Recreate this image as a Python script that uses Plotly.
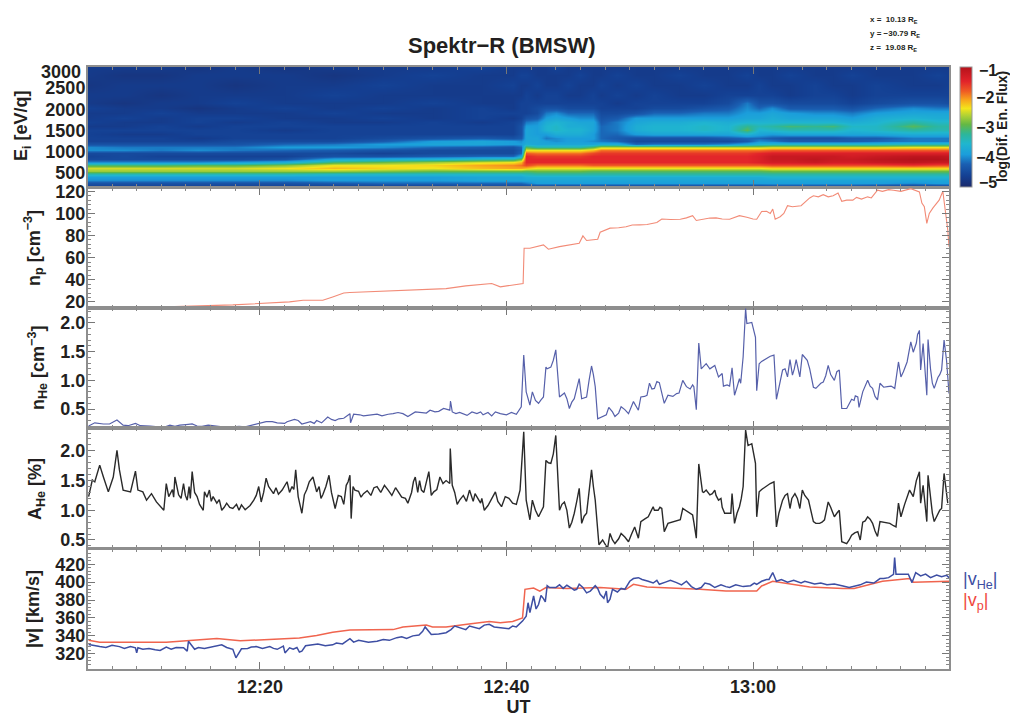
import numpy as np
import plotly.graph_objects as go

W, H = 1010, 717
X0, X1 = 88, 949
TMIN, TMAX = 6.05, 75.9
INK = "#231f20"
FONT = "Liberation Sans"

# ---- spectrogram (log10 flux x 10), columns in time, rows from high to low energy
flux_energy = [3000,2811,2575,2339,2150,2032,1914,1796,1702,1608,1513,1419,1324,1254,1183,1112,1041,970,900,829,758,687,616,546,475,404,333,262,192]
flux_time = [5.5,9,12,15,18,22,26,30,34,38,40.5,41.2,41.6,42.5,43.2,44,45,46,47,47.7,49,50.5,52,54,56,58,59.5,60.5,61.5,63,65,66.5,68,70,73,75,76.5]
flux_columns = [
 [-47,-47,-48,-47,-47,-46,-47,-47,-46,-47,-46,-46,-46,-46,-44,-40,-40,-45,-46,-45,-40,-31,-25,-27,-34,-39,-40,-44,-46],
 [-47,-48,-47,-47,-48,-47,-47,-46,-47,-47,-46,-47,-46,-46,-44,-41,-40,-45,-45,-45,-40,-31,-25,-27,-34,-39,-40,-44,-46],
 [-47,-48,-47,-48,-47,-47,-46,-47,-47,-46,-46,-47,-46,-46,-44,-41,-41,-45,-46,-45,-40,-31,-25,-27,-34,-39,-40,-44,-46],
 [-48,-47,-47,-47,-47,-48,-47,-46,-46,-47,-46,-46,-47,-46,-44,-41,-40,-45,-46,-45,-40,-30,-25,-27,-34,-39,-40,-44,-46],
 [-47,-47,-48,-47,-46,-47,-47,-46,-47,-46,-46,-46,-46,-45,-44,-41,-41,-45,-46,-45,-39,-30,-25,-27,-34,-39,-40,-44,-46],
 [-48,-47,-47,-47,-47,-46,-47,-47,-46,-46,-47,-46,-46,-45,-42,-39,-42,-45,-46,-44,-37,-28,-24,-27,-34,-39,-40,-44,-46],
 [-47,-48,-47,-46,-47,-47,-46,-47,-47,-46,-46,-46,-46,-45,-41,-39,-43,-45,-44,-38,-31,-24,-22,-27,-35,-39,-39,-43,-46],
 [-47,-47,-46,-47,-47,-46,-47,-46,-47,-46,-46,-46,-45,-43,-39,-40,-44,-46,-44,-37,-29,-24,-23,-28,-35,-39,-39,-42,-46],
 [-47,-46,-47,-47,-46,-47,-47,-47,-46,-46,-46,-46,-44,-39,-38,-42,-45,-45,-43,-36,-27,-23,-24,-29,-35,-39,-39,-42,-46],
 [-46,-47,-47,-47,-47,-46,-46,-46,-47,-46,-46,-46,-43,-38,-38,-43,-45,-45,-42,-34,-25,-21,-22,-29,-35,-38,-38,-42,-45],
 [-47,-47,-46,-47,-47,-47,-46,-47,-46,-46,-46,-46,-44,-39,-39,-44,-45,-45,-42,-33,-24,-20,-21,-29,-35,-38,-38,-42,-45],
 [-47,-46,-47,-47,-46,-46,-46,-46,-45,-44,-44,-44,-43,-40,-39,-42,-43,-42,-38,-29,-22,-19,-21,-29,-35,-38,-38,-42,-45],
 [-47,-46,-47,-46,-46,-46,-46,-44,-41,-39,-38,-38,-38,-38,-37,-30,-24,-18,-15,-15,-15,-17,-22,-30,-34,-37,-38,-41,-45],
 [-47,-47,-46,-47,-46,-45,-45,-43,-40,-39,-39,-39,-38,-38,-38,-33,-24,-19,-16,-15,-15,-19,-24,-29,-33,-37,-38,-39,-45],
 [-47,-47,-47,-46,-46,-44,-41,-39,-37,-36,-36,-39,-41,-39,-38,-33,-24,-19,-16,-15,-15,-19,-24,-29,-33,-37,-38,-39,-45],
 [-46,-47,-47,-46,-46,-44,-40,-38,-36,-35,-35,-37,-40,-40,-38,-33,-24,-19,-16,-15,-15,-19,-24,-29,-33,-37,-38,-39,-45],
 [-47,-47,-46,-47,-46,-45,-42,-39,-37,-37,-36,-37,-39,-39,-38,-33,-24,-19,-16,-15,-15,-19,-24,-29,-33,-37,-38,-39,-45],
 [-47,-46,-47,-47,-46,-45,-42,-40,-38,-37,-36,-37,-39,-39,-38,-33,-24,-19,-16,-15,-15,-19,-24,-29,-33,-37,-38,-39,-45],
 [-47,-47,-47,-46,-46,-45,-42,-40,-38,-38,-38,-39,-39,-40,-38,-30,-22,-17,-15,-15,-15,-18,-24,-30,-33,-37,-38,-39,-45],
 [-47,-47,-46,-47,-46,-46,-45,-44,-43,-42,-42,-42,-42,-41,-37,-26,-19,-16,-15,-15,-15,-18,-24,-30,-33,-37,-38,-39,-45],
 [-47,-46,-47,-46,-47,-46,-45,-43,-41,-41,-41,-42,-43,-42,-37,-26,-19,-16,-15,-15,-15,-18,-24,-30,-33,-37,-38,-39,-45],
 [-47,-47,-46,-47,-46,-46,-44,-39,-38,-37,-37,-39,-44,-45,-42,-26,-19,-16,-15,-15,-15,-18,-24,-30,-33,-37,-38,-39,-45],
 [-47,-47,-47,-46,-46,-45,-42,-39,-37,-36,-36,-38,-44,-45,-41,-26,-19,-16,-15,-15,-15,-18,-24,-30,-33,-37,-38,-39,-45],
 [-47,-46,-47,-47,-46,-45,-42,-39,-37,-36,-36,-38,-44,-45,-41,-26,-19,-16,-15,-15,-15,-18,-24,-30,-33,-37,-38,-39,-45],
 [-47,-47,-46,-47,-46,-44,-41,-39,-36,-35,-35,-38,-44,-45,-41,-26,-19,-16,-15,-15,-15,-18,-24,-30,-33,-37,-38,-39,-45],
 [-47,-47,-47,-46,-45,-43,-41,-39,-37,-36,-36,-38,-43,-45,-40,-26,-19,-16,-15,-15,-15,-18,-24,-30,-33,-37,-38,-39,-45],
 [-47,-46,-47,-46,-41,-40,-39,-38,-36,-32,-30,-36,-42,-43,-38,-26,-19,-16,-15,-15,-15,-18,-24,-30,-33,-37,-38,-39,-45],
 [-47,-47,-46,-46,-44,-42,-39,-38,-36,-34,-36,-38,-42,-40,-36,-26,-19,-15,-14,-14,-14,-18,-24,-30,-33,-37,-38,-39,-45],
 [-47,-47,-47,-46,-44,-40,-38,-37,-36,-33,-35,-39,-43,-41,-35,-25,-18,-14,-12,-12,-13,-17,-23,-29,-33,-36,-38,-39,-44],
 [-47,-46,-47,-47,-45,-43,-39,-38,-36,-31,-34,-38,-44,-43,-35,-25,-18,-14,-12,-12,-13,-17,-23,-29,-33,-36,-38,-39,-44],
 [-47,-47,-46,-46,-45,-43,-40,-38,-36,-32,-34,-38,-44,-43,-35,-25,-18,-14,-12,-11,-12,-17,-23,-29,-33,-36,-38,-39,-44],
 [-47,-47,-47,-46,-45,-43,-40,-38,-36,-31,-34,-38,-44,-43,-35,-25,-18,-14,-12,-12,-13,-17,-23,-29,-33,-36,-38,-39,-44],
 [-47,-46,-47,-47,-46,-44,-41,-39,-37,-35,-36,-38,-43,-43,-35,-25,-18,-14,-13,-12,-13,-17,-23,-29,-33,-36,-38,-39,-44],
 [-47,-47,-46,-46,-45,-42,-39,-37,-36,-35,-35,-38,-43,-42,-35,-25,-18,-14,-12,-11,-12,-17,-23,-29,-33,-36,-38,-39,-45],
 [-47,-47,-47,-46,-44,-40,-38,-36,-33,-30,-33,-37,-41,-41,-34,-24,-18,-14,-11,-10,-11,-16,-23,-29,-33,-36,-38,-40,-46],
 [-47,-46,-47,-46,-44,-41,-38,-37,-35,-33,-34,-37,-41,-41,-34,-24,-18,-14,-11,-10,-12,-17,-23,-29,-33,-36,-38,-39,-45],
 [-47,-47,-46,-46,-45,-41,-38,-37,-35,-33,-34,-37,-41,-41,-34,-24,-18,-14,-12,-11,-12,-17,-23,-29,-33,-36,-38,-39,-45],
]

# ---- proton density
np_t = [6.1,12.4,17.8,21.6,22.4,23.5,25.1,25.9,26.8,27.3,28.6,30,32.7,35.1,36.7,38.8,39.5,40.5,41.35,41.43,41.9,43,43.4,44.3,44.9,45.4,45.9,46.2,46.5,47.4,47.6,48.4,49.1,49.7,50.2,50.8,51.4,52.2,52.6,53.3,54.1,54.6,55.1,55.4,56.5,57,57.5,58.1,58.9,59.5,60,60.3,60.7,61.1,61.4,61.6,61.8,62.2,62.5,62.8,63.2,63.9,64.2,64.6,64.9,65.3,65.7,66.1,66.5,66.9,67.2,67.6,68.1,68.4,68.8,69.3,69.6,70.1,70.5,71,71.4,72,72.8,73.5,73.7,73.9,74.1,74.3,74.6,75.1,75.4,75.6,75.8,75.9]
np_v = [14.8,15.5,17.3,19,20,21.5,21.5,24.5,28,28.5,29,30,30.6,32,34.5,36.7,33.6,35,36.7,68.5,68.5,71.5,67.6,70,71,71.5,73,79.7,75.5,76.7,83,86.7,87,88,89.5,89.7,90,91.8,95,94.5,94.8,96,98,93.6,95.8,96,95,94.8,98,96.5,95,94.8,101.8,102,100,104,94.8,97,100,107,106,107,110,114,116,115,117,115,116,118.5,111,112,112,114.5,113,115,114,121,120,121.5,121,120,122.4,119.4,109.4,106,91,100,105,112,120,103,85,70]

# ---- helium density
nhe_t = [6.1,6.6,7.3,7.8,8.4,8.9,9.3,9.9,10.3,11.1,12.2,12.7,13.1,13.5,14,14.5,14.9,15.3,15.8,16.3,16.8,17.3,17.8,18.3,18.8,19.5,20,20.5,21,21.4,22,22.2,22.8,23.1,23.4,23.7,24.1,24.4,24.6,25,25.5,25.8,26.1,26.4,26.8,27.3,27.35,27.6,28.1,28.4,28.9,29.5,29.9,30.4,30.8,31.2,31.6,32,32.6,33.1,33.5,33.8,34.2,34.5,34.9,35.4,35.46,35.6,35.9,36.2,36.5,36.8,37.2,37.6,37.9,38.1,38.5,38.8,39.1,39.5,40,40.4,40.8,41.2,41.4,41.6,41.9,42.1,42.35,42.6,42.8,43,43.2,43.3,43.6,43.8,44,44.3,44.7,44.9,45.1,45.3,45.5,45.7,45.9,46.1,46.5,46.7,46.9,47.05,47.2,47.4,48.1,48.3,48.6,48.8,49.1,49.3,49.6,49.9,50.1,50.3,50.7,50.9,51.2,51.4,51.6,51.8,52,52.2,52.4,52.6,52.8,53.1,53.5,53.8,54,54.3,54.6,54.9,55.1,55.2,55.4,55.6,55.8,56.2,56.5,56.9,57.2,57.5,57.6,57.9,58.1,58.3,58.5,58.7,58.9,59,59.2,59.4,59.5,59.9,60.2,60.3,60.5,60.7,60.9,61.1,61.4,61.7,61.9,62.4,62.6,62.8,63,63.2,63.35,63.5,63.65,63.8,64,64.2,64.4,64.6,64.9,65.1,65.3,65.5,65.7,65.9,66.1,66.3,66.6,66.8,67,67.2,67.6,67.8,68,68.2,68.3,68.5,68.6,68.9,69.1,69.3,69.5,69.7,69.9,70.1,70.3,70.6,70.9,71.2,71.5,71.8,72,72.2,72.5,72.8,73,73.25,73.35,73.5,73.6,73.8,74.1,74.2,74.4,74.55,74.7,75,75.15,75.3,75.5,75.7,75.9]
nhe_v = [.205,.26,.24,.24,.31,.22,.21,.25,.21,.205,.18,.22,.2,.22,.23,.24,.205,.2,.22,.21,.19,.18,.19,.2,.19,.23,.26,.28,.28,.26,.25,.28,.32,.3,.24,.26,.28,.25,.30,.26,.36,.32,.30,.33,.34,.42,.26,.41,.4,.38,.39,.41,.38,.41,.42,.44,.42,.37,.45,.44,.43,.48,.45,.46,.51,.48,.64,.45,.42,.44,.41,.39,.45,.42,.45,.40,.44,.38,.45,.42,.40,.44,.41,.54,1.44,.80,.57,.80,.65,.60,.66,.71,1.23,1.2,1.23,1.35,1.53,.71,.78,.68,.51,.62,.68,.85,1.03,.68,.71,1.0,1.25,1.1,.89,.33,.40,.53,.45,.37,.43,.54,.49,.42,.52,.63,.48,.71,.72,.74,.95,.85,.86,.98,.96,.8,.60,.74,.72,.77,.78,1.0,.89,.85,.92,.89,.49,1.65,1.2,1.29,1.2,1.26,1.06,1.12,.9,.92,.9,1.22,.74,.88,1.03,.95,1.41,2.25,1.99,2.01,1.75,.82,1.29,1.33,1.36,1.38,1.42,1.44,.67,1.18,1.2,1.06,1.36,1.09,1.2,1.36,1.2,1.06,1.45,1.4,1.35,1.2,.88,.86,.90,.95,.97,1.08,1.26,1.1,1.0,1.15,1.18,.51,.51,.58,.67,.65,.73,.71,.53,.8,.9,1.0,.9,.86,.72,.66,.95,.88,.89,.9,.86,1.32,1.06,1.15,1.32,1.67,1.49,1.65,1.8,1.87,1.18,1.64,.74,1.71,1.2,.95,.86,1.05,1.1,1.18,1.7,1.35,.77]

# ---- helium abundance
ahe_t = [6.1,6.4,6.6,7,7.3,7.7,8.1,8.4,8.6,8.9,9.5,9.9,10.1,10.5,10.8,11.2,11.6,12.2,12.4,12.6,12.9,13.0,13.1,13.25,13.4,13.6,13.8,13.95,14.1,14.25,14.35,14.5,14.7,14.9,15.1,15.4,15.5,15.7,15.9,16.05,16.2,16.5,16.7,16.9,17.1,17.3,17.55,17.8,18.1,18.3,18.5,18.8,19.2,19.5,19.7,19.9,20.1,20.3,20.5,20.7,20.9,21.1,21.3,21.5,21.8,22,22.2,22.4,22.6,22.75,22.9,23.1,23.4,23.6,23.8,24,24.3,24.6,24.8,24.95,25.1,25.35,25.6,25.8,25.95,26.1,26.35,26.6,26.8,27,27.15,27.3,27.4,27.55,27.7,28,28.2,28.4,28.7,29,29.25,29.5,29.8,30.1,30.4,30.7,31,31.2,31.5,31.8,32,32.3,32.45,32.6,32.8,32.95,33.1,33.3,33.5,33.7,33.9,34.1,34.35,34.6,34.85,35.1,35.4,35.44,35.6,35.8,36,36.2,36.5,36.75,37,37.3,37.45,37.6,37.9,38,38.2,38.5,38.8,39.1,39.3,39.6,39.9,40.2,40.5,40.8,41.1,41.4,41.6,41.9,42.1,42.35,42.6,42.8,43,43.2,43.4,43.6,43.8,44,44.3,44.5,44.7,44.9,45.1,45.3,45.5,45.7,45.9,46.1,46.3,46.5,46.7,46.9,47.05,47.2,47.5,47.8,48.2,48.4,48.6,48.8,49.1,49.3,49.6,49.9,50.15,50.4,50.7,50.9,51.2,51.5,51.9,52,52.3,52.45,52.6,52.8,53.1,53.5,53.8,54.1,54.3,54.7,54.9,55.1,55.2,55.4,55.6,55.9,56,56.2,56.5,56.7,56.9,57,57.2,57.4,57.5,57.7,58,58.2,58.3,58.5,58.7,58.9,59.05,59.2,59.4,59.6,59.9,60,60.2,60.3,60.5,60.7,60.9,61.1,61.4,61.7,61.9,62.1,62.4,62.6,62.8,63,63.15,63.4,63.6,63.8,64,64.2,64.5,64.9,65.1,65.4,65.6,65.8,66.1,66.3,66.6,66.8,67,67.2,67.6,67.8,68,68.25,68.5,68.7,68.9,69.1,69.3,69.5,69.7,69.9,70.1,70.3,70.6,71.1,71.4,71.6,71.8,72,72.3,72.7,73,73.25,73.5,73.6,73.8,74.1,74.2,74.4,74.55,74.7,75,75.15,75.3,75.5,75.8]
ahe_v = [1.23,1.51,1.48,1.76,1.56,1.31,1.56,2.01,1.68,1.34,1.31,1.66,1.34,1.31,1.17,1.28,1.14,1.0,1.45,1.23,1.35,1.22,1.56,1.42,1.26,1.2,1.45,1.25,1.17,1.4,1.2,1.65,1.3,1.23,1.1,1.0,1.31,1.22,1.34,1.15,1.23,1.12,1.18,1.0,1.05,1.12,1.05,1.03,1.1,1.0,1.09,1.01,1.08,1.17,1.25,1.4,1.14,1.3,1.54,1.4,1.34,1.28,1.38,1.27,1.34,1.4,1.48,1.3,1.4,1.35,1.68,1.23,.95,1.26,1.35,1.48,1.56,1.31,1.4,1.2,1.26,1.4,1.59,1.3,1.15,1.03,1.25,1.23,1.1,1.42,1.48,1.59,.86,1.4,1.34,1.32,1.22,1.28,1.33,1.25,1.38,1.4,1.3,1.42,1.34,1.25,1.38,1.31,1.22,1.2,1.12,1.3,1.48,1.56,1.3,1.5,1.34,1.3,1.5,1.65,1.25,1.31,1.35,1.56,1.45,1.5,1.45,2.04,1.42,1.3,1.1,1.17,1.25,1.15,1.34,1.15,1.28,1.23,1.12,1.2,1.0,1.08,1.2,1.31,1.15,1.06,1.23,1.2,1.12,1.1,1.34,2.32,1.17,.84,1.17,1.0,.89,.98,1.06,1.84,1.8,1.79,1.95,2.26,1.0,1.1,1.14,1.0,.70,.8,.95,1.15,1.37,.78,.9,.95,1.3,1.68,1.4,1.17,.42,.5,.36,.61,.5,.44,.52,.61,.55,.47,.6,.72,.53,.81,.85,.89,1.06,1.0,1.0,1.05,1.03,.64,.78,.8,.82,.84,1.03,.98,.95,.92,.8,.53,1.78,1.31,1.3,1.34,1.26,1.28,1.34,1.25,1.17,1.2,1.05,.95,.95,.95,1.28,.78,.95,1.06,1.2,1.4,2.35,2.09,2.12,2.0,1.79,.89,1.31,1.35,1.38,1.4,1.45,1.48,.72,.95,1.17,1.25,1.28,1.03,1.2,1.28,1.2,1.03,1.34,1.25,1.17,.81,.78,.78,.8,.84,1.14,1.05,.89,.95,1.0,.47,.44,.5,.58,.62,.64,.5,.8,.82,.89,.85,.78,.65,.56,.81,.8,.78,.74,.72,1.12,.89,1.1,1.34,1.23,1.5,1.65,1.12,1.42,.81,1.59,1.17,.95,.81,.95,1.0,1.03,1.62,1.12]

# ---- speeds
vp_t = [6.1,7,12.4,14.1,16.5,18.4,20.5,23.2,24.6,25.9,27.3,30.8,31.6,33.5,34,35.1,36.8,38.6,39.5,40.5,41.3,41.5,42.2,42.7,43.2,44.9,47.6,49.7,50.3,51.4,55.7,57.8,60.3,60.7,61.6,62.4,64.6,67.3,68.2,70.5,72.7,73,74.6,75.9]
vp_v = [335,333,333,335,337,334.5,336,337.5,340.5,344,346.5,347,350,352,350,350,353,356,354.7,356,360,392,393.5,390,394,393,394,392,397.6,394.6,392,390,390,395.7,401,399.5,394.6,393,393,401,404,400,401,401]
vhe_t = [6.1,6.5,7,7.5,8,8.6,9,9.5,9.9,10,10.1,10.5,11,11.5,11.9,12.4,12.8,13.2,13.8,14.1,14.2,14.7,15,15.5,16,16.5,16.9,17.3,17.8,18.05,18.5,19,19.3,19.7,20.2,20.8,21.1,21.4,21.9,22.03,22.4,22.7,23,23.2,23.4,23.7,24.3,24.7,25.3,25.9,26.2,26.7,27.3,27.6,28,28.8,29.5,30,30.5,31.1,31.5,31.9,32.4,32.9,33.2,33.4,33.9,34.5,35.1,35.5,35.8,36.2,36.7,37,37.3,37.8,38.2,38.6,39,39.5,40.2,40.5,40.8,41.3,41.6,41.75,41.9,42.2,42.4,42.6,42.8,43,43.15,43.3,43.5,44,44.3,44.6,44.9,45.2,45.5,45.7,45.9,46.2,46.5,46.8,47.2,47.4,47.6,47.9,48.1,48.2,48.4,48.6,49,49.3,49.6,50,50.3,50.7,51,51.5,51.9,52.2,52.4,52.9,53.3,53.8,54.2,54.6,55,55.4,55.8,56.1,56.5,56.9,57.4,57.8,58.1,58.6,59.2,59.8,60.1,60.3,60.7,61.1,61.3,61.6,61.9,62.3,62.8,63.3,63.9,64.2,64.6,65,65.5,66,66.6,67,67.3,67.8,68.2,68.7,69.2,69.8,70.3,70.6,71,71.4,71.49,71.6,72.6,72.9,73.2,73.6,74,74.4,74.9,75.3,75.7,75.9]
vhe_v = [330.4,329,328,327,329.5,328,326,328,326.7,321,326.7,325,326,324.5,323.7,327.5,325,327,326.7,323,334,325,327,326,327.5,329,330,327,325,315.5,325.6,326,327.5,328,326,328,326,325,328.6,321,326.7,325,327,322,323,329,330,331,329,330,332,331,336.8,333,335,333,334,336,335,338,339,337,340,341,345,350,341.6,342,343.5,347,351,349,347,351,350,348,352,353,350,349,348,351,350,356.5,362,377,366,384.5,370,375,385,381.6,378,396,394,394,397,393,396.5,394,391,392,397.6,394,388,390,396,393,386.5,382,390,377,381,392,389,393,392,401,404,405,403,401,399,402,397.6,400,402,399.5,397,401,395,392,394,399,397.6,394,397,395,394,397,395,396,399,397.6,401,403,403,410.7,401,403,400,402,399,401,399.5,398,399,397,398,397,395.7,394,395.7,397,400,399,404,404,405,408.8,427.5,408.8,408.8,399.5,410.7,407,409,405,408,406,407.7,405]

for a, b, name in [(np_t, np_v, "np"), (nhe_t, nhe_v, "nhe"), (ahe_t, ahe_v, "ahe"), (vp_t, vp_v, "vp"), (vhe_t, vhe_v, "vhe")]:
    assert len(a) == len(b), (name, len(a), len(b))

# ---- axes
time_ticks = [20, 40, 60]
time_labels = ["12:20", "12:40", "13:00"]
energy_ticks = [500, 1000, 1500, 2000, 2500]
panel_ranges = {"E": (167, 3000), "np": (14.5, 123), "nHe": (0.17, 2.26), "AHe": (0.365, 2.385), "v": (303, 437)}
panel_px = {"E": (67, 187), "np": (188, 308), "nHe": (308, 428), "AHe": (428, 548), "v": (549, 669)}
rainbow = [[0, "#1b2a6b"], [0.09, "#143f92"], [0.19, "#1a5fb2"], [0.27, "#1b9ddb"], [0.36, "#20b6cf"], [0.44, "#2db69a"], [0.52, "#63b845"], [0.60, "#b5d333"], [0.655, "#f4e51b"], [0.73, "#f8a11c"], [0.80, "#ef5a24"], [0.88, "#e2232a"], [1, "#b5121b"]]


def py(y):
    return 1 - y / H


def px(x):
    return x / W


fig = go.Figure()
z = np.array(flux_columns, dtype=float).T / 10
fig.add_trace(go.Heatmap(x=flux_time, y=flux_energy, z=z, zmin=-5, zmax=-1, colorscale=rainbow, zsmooth="best", xaxis="x", yaxis="y",
                         hoverinfo="skip",
                         colorbar=dict(x=px(960), xanchor="left", y=py(127), yanchor="middle", lenmode="pixels", len=120, thicknessmode="pixels", thickness=12,
                                       tickvals=[-2, -3, -4], ticks="", tickfont=dict(family=FONT, size=16, color=INK, weight="bold"), outlinecolor="#999", outlinewidth=1, xpad=0, ypad=0)))
fig.add_trace(go.Scatter(x=np_t, y=np_v, mode="lines", line=dict(color="#f28b77", width=1.1), xaxis="x2", yaxis="y2"))
fig.add_trace(go.Scatter(x=nhe_t, y=nhe_v, mode="lines", line=dict(color="#5660aa", width=1.2), xaxis="x3", yaxis="y3"))
fig.add_trace(go.Scatter(x=ahe_t, y=ahe_v, mode="lines", line=dict(color="#2a2a2a", width=1.4), xaxis="x4", yaxis="y4"))
fig.add_trace(go.Scatter(x=vp_t, y=vp_v, mode="lines", line=dict(color="#f0644e", width=1.5), xaxis="x5", yaxis="y5"))
fig.add_trace(go.Scatter(x=vhe_t, y=vhe_v, mode="lines", line=dict(color="#3d4ea3", width=1.5), xaxis="x5", yaxis="y5"))

AX = dict(showline=True, linecolor="#8e8e8e", linewidth=2, mirror="ticks", showgrid=False, zeroline=False, ticks="inside", tickcolor="#777", ticklen=7, tickwidth=1,
          tickfont=dict(family=FONT, size=18, color=INK, weight="bold"))
minor_steps = {"np": 4, "nHe": 0.1, "AHe": 0.1, "v": 4}
major_steps = {"np": 20, "nHe": 0.5, "AHe": 0.5, "v": 20}
layout = {}
for i, key in enumerate(["E", "np", "nHe", "AHe", "v"]):
    suffix = "" if i == 0 else str(i + 1)
    top, bottom = panel_px[key]
    xa = dict(AX, domain=[px(X0), px(X1)], range=[TMIN, TMAX], tickmode="array", tickvals=time_ticks,
              ticktext=time_labels if key == "v" else [""] * 3, anchor="y" + suffix,
              minor=dict(tick0=0, dtick=2, ticks="inside", ticklen=3, tickcolor="#888"))
    if key == "v":
        xa["title"] = dict(text="UT", standoff=0, font=dict(family=FONT, size=18, color=INK, weight="bold"))
    ya = dict(AX, domain=[py(bottom), py(top)], range=list(panel_ranges[key]), anchor="x" + suffix, ticklabelstandoff=-3)
    if key == "E":
        ya.update(tickmode="array", tickvals=energy_ticks, ticks="", mirror=True)
    else:
        ya.update(tick0=0, dtick=major_steps[key], tickformat=".1f" if key in ("nHe", "AHe") else "d",
                  minor=dict(dtick=minor_steps[key], ticks="inside", ticklen=3, tickcolor="#888"))
    layout["xaxis" + suffix] = xa
    layout["yaxis" + suffix] = ya


def text(x, y, s, size=18, angle=0, color=INK, anchor="center", bold=True):
    return dict(xref="paper", yref="paper", x=px(x), y=py(y), text=f"<b>{s}</b>" if bold else s, showarrow=False, xanchor=anchor, yanchor="middle",
                textangle=angle, font=dict(family=FONT, size=size, color=color))


notes = [
    text(502, 45, "Spektr−R (BMSW)", size=22),
    text(868, 20, "x =  10.13 R<sub>E</sub>", size=8, anchor="left"),
    text(868, 34, "y = −30.79 R<sub>E</sub>", size=8, anchor="left"),
    text(868, 48, "z =  19.08 R<sub>E</sub>", size=8, anchor="left"),
    text(83, 72, "3000", anchor="right"),
    text(977, 71, "−1", size=16, anchor="left"),
    text(977, 182, "−5", size=16, anchor="left"),
    text(1002, 127, "log(Dif. En. Flux)", size=14, angle=-90),
    text(22, 126, "E<sub>i</sub> [eV/q]", size=18, angle=-90),
    text(33, 248, "n<sub>p</sub> [cm<sup>−3</sup>]", size=18, angle=-90),
    text(37, 368, "n<sub>He</sub> [cm<sup>−3</sup>]", size=18, angle=-90),
    text(37, 489, "A<sub>He</sub> [%]", size=18, angle=-90),
    text(33, 609, "|v| [km/s]", size=18, angle=-90),
    text(961, 580, "|v<sub>He</sub>|", size=18, color="#3d4ea3", anchor="left", bold=False),
    text(961, 601, "|v<sub>p</sub>|", size=18, color="#f0483e", anchor="left", bold=False),
]
fig.update_layout(width=W, height=H, margin=dict(l=0, r=0, t=0, b=0, autoexpand=False), paper_bgcolor="white", plot_bgcolor="white", showlegend=False, annotations=notes, **layout)
fig.write_html("out.html", config=dict(displayModeBar=False), post_script="document.body.style.margin='0';document.body.style.overflow='hidden';")
